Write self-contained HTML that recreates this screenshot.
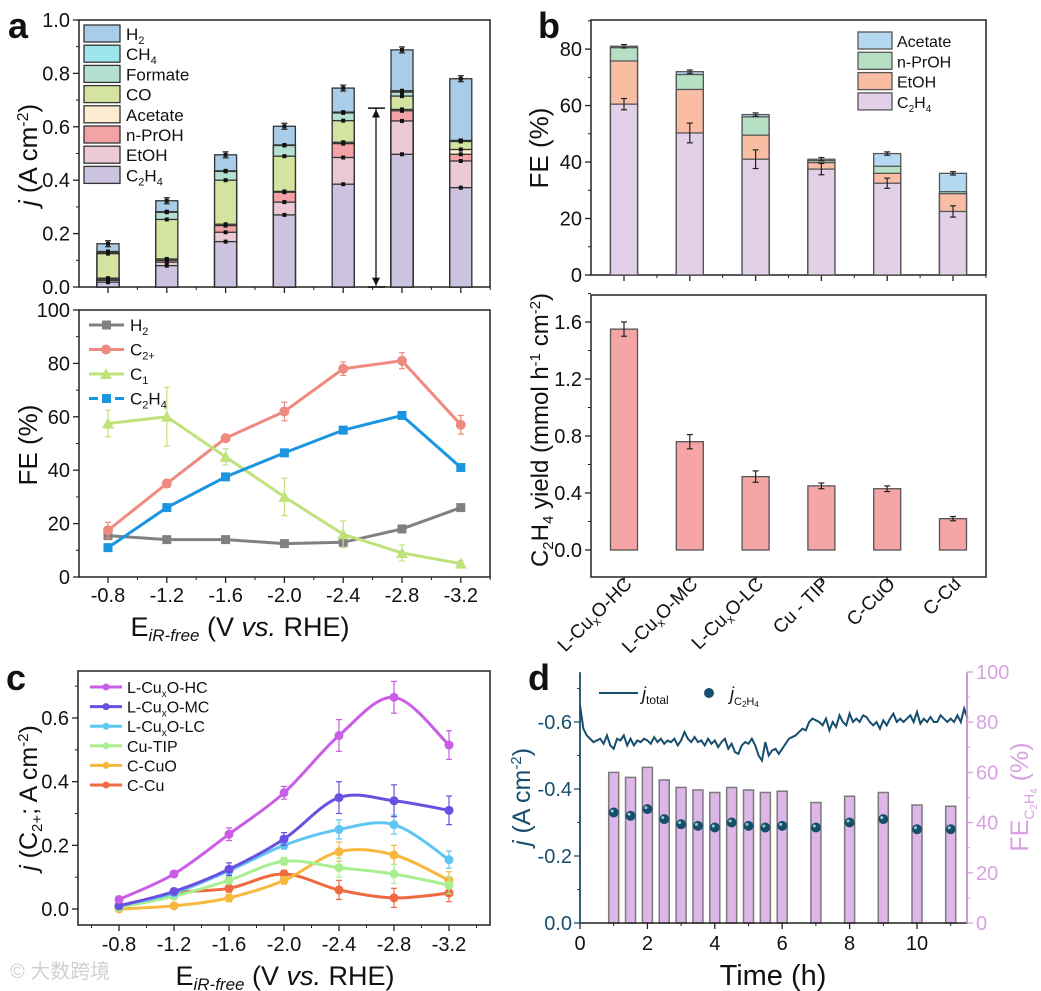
<!DOCTYPE html>
<html><head><meta charset="utf-8"><style>
body{margin:0;background:#fff;}
svg{display:block;font-family:"Liberation Sans",Arial,sans-serif;}
</style></head><body>
<svg id="fig" width="1041" height="991" viewBox="0 0 1041 991" xmlns="http://www.w3.org/2000/svg"></svg>
<script>
// ---------- DATA ----------
// Panel a top: cumulative stacked current densities (A cm-2)
const aCats = ["-0.8","-1.2","-1.6","-2.0","-2.4","-2.8","-3.2"];
const aC2H4 = [0.018,0.080,0.170,0.270,0.385,0.497,0.372];
const aEtOH = [0.025,0.093,0.205,0.318,0.485,0.622,0.472];
const aPrOH = [0.030,0.100,0.230,0.355,0.537,0.660,0.497];
const aAcet = [0.033,0.105,0.235,0.358,0.542,0.665,0.515];
const aCO   = [0.125,0.253,0.400,0.490,0.623,0.715,0.545];
const aForm = [0.130,0.280,0.433,0.530,0.652,0.730,0.547];
const aCH4  = [0.133,0.282,0.435,0.532,0.655,0.735,0.549];
const aH2   = [0.162,0.323,0.495,0.602,0.745,0.888,0.780];
const aTicks = ["0.0","0.2","0.4","0.6","0.8","1.0"];
// Panel a bottom: FE (%)
const feH2   = [15.5,14,14,12.5,13,18,26];
const feC2p  = [17.5,35,52,62,78,81,57];
const feC1   = [57.5,60,45,30,16,9,5];
const feC2H4 = [11,26,37.5,46.5,55,60.5,41];
const feErrC2p = [3,1.5,1,3.5,2.5,3,3.5];
const feErrC1 = [5,11,3,7,5,3,1];
const feTicks = ["0","20","40","60","80","100"];
// Panel b
const bCats = ["L-CuxO-HC","L-CuxO-MC","L-CuxO-LC","Cu - TIP","C-CuO","C-Cu"];
const bC2H4 = [60.5,50.3,41,37.5,32.5,22.5];
const bEtOH = [75.8,65.7,49.5,39.8,36,28.8];
const bPrOH = [80.5,71,56,40.5,38.5,29.5];
const bAcet = [81,72,56.8,41,43,36];
const bErr  = [2,3.5,3.3,2,1.8,2];
const bTicks = ["0","20","40","60","80"];
const yieldVals = [1.55,0.76,0.515,0.45,0.43,0.22];
const yieldErr  = [0.05,0.05,0.04,0.02,0.02,0.015];
const yTicks = ["0.0","0.4","0.8","1.2","1.6"];
// Panel c
const cCats = [-0.8,-1.2,-1.6,-2.0,-2.4,-2.8,-3.2];
const cHC  = [0.03,0.11,0.235,0.365,0.545,0.665,0.515];
const cMC  = [0.01,0.055,0.125,0.22,0.35,0.34,0.31];
const cLC  = [0.01,0.05,0.12,0.20,0.25,0.265,0.155];
const cTIP = [0.005,0.04,0.09,0.15,0.13,0.11,0.075];
const cCuO = [0.0,0.01,0.035,0.09,0.18,0.17,0.09];
const cCu  = [0.005,0.05,0.065,0.11,0.06,0.035,0.05];
const cErr = [0.01,0.01,0.02,0.02,0.05,0.05,0.045];
const cTicks = ["0.0","0.2","0.4","0.6"];
// Panel d
const dTimes = [1,1.5,2,2.5,3,3.5,4,4.5,5,5.5,6,7,8,9,10,11];
const dFE    = [60,58,62,57,54,53,52,54,53,52,52.5,48,50.5,52,47,46.5];
const dJC2H4 = [0.33,0.32,0.34,0.31,0.295,0.29,0.285,0.30,0.29,0.285,0.29,0.285,0.30,0.31,0.28,0.28];
const dJtot = [0.65,0.58,0.56,0.55,0.54,0.545,0.55,0.535,0.56,0.53,0.52,0.55,0.545,0.56,0.53,0.55,0.53,0.545,0.54,0.55,0.545,0.535,0.555,0.54,0.55,0.535,0.545,0.54,0.55,0.53,0.545,0.57,0.55,0.54,0.555,0.54,0.545,0.53,0.55,0.535,0.545,0.525,0.54,0.55,0.52,0.535,0.51,0.505,0.53,0.54,0.535,0.55,0.53,0.50,0.485,0.54,0.50,0.515,0.52,0.505,0.52,0.535,0.55,0.555,0.56,0.57,0.58,0.575,0.60,0.61,0.605,0.60,0.59,0.61,0.575,0.60,0.585,0.62,0.60,0.59,0.625,0.60,0.61,0.60,0.62,0.615,0.60,0.59,0.60,0.58,0.605,0.59,0.61,0.625,0.60,0.61,0.60,0.61,0.62,0.60,0.63,0.595,0.61,0.60,0.615,0.60,0.60,0.62,0.61,0.60,0.61,0.60,0.62,0.60,0.64,0.61];
const dTicksL = ["0.0","-0.2","-0.4","-0.6"];
const dTicksR = ["0","20","40","60","80","100"];
const dTicksX = ["0","2","4","6","8","10"];

// ---------- HELPERS ----------
const NS="http://www.w3.org/2000/svg";
const svg=document.getElementById('fig');
function el(tag,attrs,parent,txt){const e=document.createElementNS(NS,tag);for(const k in attrs)e.setAttribute(k,attrs[k]);if(txt!==undefined)e.textContent=txt;(parent||svg).appendChild(e);return e;}
function grp(name){const g=el('g',{});return g;}
function lin(x0,x1,d0,d1){return v=>x0+(v-d0)/(d1-d0)*(x1-x0);}
function frame(g,x0,y0,x1,y1){el('rect',{x:x0,y:y0,width:x1-x0,height:y1-y0,fill:'none',stroke:'#222','stroke-width':1.5},g);}
function errbar(g,x,y0,y1,c){el('line',{x1:x,x2:x,y1:y0,y2:y1,stroke:c||'#222','stroke-width':1.2},g);el('line',{x1:x-3,x2:x+3,y1:y0,y2:y0,stroke:c||'#222','stroke-width':1.2},g);el('line',{x1:x-3,x2:x+3,y1:y1,y2:y1,stroke:c||'#222','stroke-width':1.2},g);}
function smooth(pts){let d='M'+pts[0][0]+','+pts[0][1];for(let i=0;i<pts.length-1;i++){const p0=pts[i-1]||pts[i],p1=pts[i],p2=pts[i+1],p3=pts[i+2]||p2;const c1=[p1[0]+(p2[0]-p0[0])/6,p1[1]+(p2[1]-p0[1])/6],c2=[p2[0]-(p3[0]-p1[0])/6,p2[1]-(p3[1]-p1[1])/6];d+=' C'+c1+' '+c2+' '+p2;}return d;}
function label(g,x,y,t,opt){return el('text',Object.assign({x:x,y:y,'font-size':20,fill:'#111'},opt||{}),g,t);}

// panel letters
[['a',8,38],['b',538,38],['c',6,690],['d',528,690]].forEach(p=>{const t=label(svg,p[1],p[2],p[0],{'font-size':36,'font-weight':'bold'});});

// ---------- PANEL A TOP ----------
(function(){
const g=grp('panel-a-stacked-bars');
const X0=79,X1=490,Y0=20,Y1=287;
const y=lin(Y1,Y0,0,1.0);
const xc=i=>108+i*58.8;
frame(g,X0,Y0,X1,Y1);
aTicks.forEach(t=>{const v=parseFloat(t);el('line',{x1:X0,x2:X0-6,y1:y(v),y2:y(v),stroke:'#222','stroke-width':1.3},g);label(g,X0-9,y(v)+7,t,{'text-anchor':'end'});
 if(v<1){el('line',{x1:X0,x2:X0-3,y1:y(v+0.1),y2:y(v+0.1),stroke:'#222'},g);}});
aCats.forEach((c,i)=>{el('line',{x1:xc(i),x2:xc(i),y1:Y1,y2:Y1+6,stroke:'#222','stroke-width':1.3},g);el('line',{x1:xc(i)+29.4,x2:xc(i)+29.4,y1:Y1,y2:Y1+3,stroke:'#222'},g);});
const layers=[[aH2,'#a9cde8','h2'],[aCH4,'#9ee5ec','ch4'],[aForm,'#b3e0d1','formate'],[aCO,'#d4e3a0','co'],[aAcet,'#fbeccf','acetate'],[aPrOH,'#f3a2a6','n-proh'],[aEtOH,'#ebc9d6','etoh'],[aC2H4,'#cbc3e0','c2h4']];
const bw=22;
aCats.forEach((c,i)=>{
 layers.forEach(L=>{const r=el('rect',{x:xc(i)-bw/2,y:y(L[0][i]),width:bw,height:Y1-y(L[0][i]),fill:L[1],stroke:'#333','stroke-width':1.3},g);
 });
 layers.forEach(L=>{el('rect',{x:xc(i)-2,y:y(L[0][i])-2,width:4,height:4,fill:'#111'},g);});
 errbar(g,xc(i),y(aH2[i])-3,y(aH2[i])+3);
});
// double arrow
el('line',{x1:376,x2:376,y1:y(0.005),y2:y(0.67),stroke:'#111','stroke-width':1.3},g);
el('line',{x1:368,x2:385,y1:y(0.67),y2:y(0.67),stroke:'#111','stroke-width':1.5},g);
el('line',{x1:368,x2:385,y1:y(0.0),y2:y(0.0),stroke:'#111','stroke-width':1.5},g);
el('path',{d:`M372,${y(0.635)} L376,${y(0.665)} L380,${y(0.635)} Z`,fill:'#111'},g);
el('path',{d:`M372,${y(0.035)} L376,${y(0.005)} L380,${y(0.035)} Z`,fill:'#111'},g);
// legend
const lg=grp('legend-a');
const names=[['H','2'],['CH','4'],['Formate',''],['CO',''],['Acetate',''],['n-PrOH',''],['EtOH',''],['C','2','H','4']];
const cols=['#a9cde8','#9ee5ec','#b3e0d1','#d4e3a0','#fbeccf','#f3a2a6','#ebc9d6','#cbc3e0'];
names.forEach((n,k)=>{const yy=25+k*20.2;
 const r=el('rect',{x:84,y:yy,width:36,height:17,fill:cols[k],stroke:'#333','stroke-width':1.3},lg);
 
 const t=el('text',{x:126,y:yy+15,'font-size':17,fill:'#111'},lg);
 el('tspan',{},t,n[0]);if(n[1])el('tspan',{'font-size':11,dy:4},t,n[1]);if(n[2]){el('tspan',{'font-size':17,dy:-4},t,n[2]);el('tspan',{'font-size':11,dy:4},t,n[3]);}
});
const yl=el('text',{transform:'translate(37,155) rotate(-90)','text-anchor':'middle','font-size':26,fill:'#111'},g);
el('tspan',{'font-style':'italic'},yl,'j');el('tspan',{},yl,' (A cm');el('tspan',{'font-size':16,dy:-9},yl,'-2');el('tspan',{dy:9},yl,')');

})();

// ---------- PANEL A BOTTOM ----------
(function(){
const g=grp('panel-a-fe-lines');
const X0=79,X1=490,Y0=310,Y1=577;
const y=lin(Y1,Y0,0,100);
const xc=i=>108+i*58.8;
frame(g,X0,Y0,X1,Y1);
feTicks.forEach(t=>{const v=+t;el('line',{x1:X0,x2:X0-6,y1:y(v),y2:y(v),stroke:'#222','stroke-width':1.3},g);label(g,X0-9,y(v)+7,t,{'text-anchor':'end'});if(v<100)el('line',{x1:X0,x2:X0-3,y1:y(v+10),y2:y(v+10),stroke:'#222'},g);});
aCats.forEach((c,i)=>{el('line',{x1:xc(i),x2:xc(i),y1:Y1,y2:Y1+6,stroke:'#222','stroke-width':1.3},g);el('line',{x1:xc(i)+29.4,x2:xc(i)+29.4,y1:Y1,y2:Y1+3,stroke:'#222'},g);label(g,xc(i),602,c,{'text-anchor':'middle'});});
const ser=[[feH2,'#808080','square','h2',null],[feC2p,'#ef8a80','circle','c2plus',feErrC2p],[feC1,'#bfe37a','tri','c1',feErrC1],[feC2H4,'#1c95e0','square','c2h4',null]];
ser.forEach(S=>{
 const pts=S[0].map((v,i)=>[xc(i),y(v)]);
 const p=el('polyline',{points:pts.map(p=>p.join(',')).join(' '),fill:'none',stroke:S[1],'stroke-width':3},g);
 
 pts.forEach((pt,i)=>{ if(S[4])errbar(g,pt[0],y(S[0][i]+S[4][i]),y(S[0][i]-S[4][i]),S[1]);
  if(S[2]==='square')el('rect',{x:pt[0]-4.5,y:pt[1]-4.5,width:9,height:9,fill:S[1]},g);
  else if(S[2]==='circle')el('circle',{cx:pt[0],cy:pt[1],r:5,fill:S[1]},g);
  else el('path',{d:`M${pt[0]},${pt[1]-6} L${pt[0]+6},${pt[1]+5} L${pt[0]-6},${pt[1]+5}Z`,fill:S[1]},g);});
});
const lg=grp('legend-a-fe');
const ln=[['H','2','#808080','square'],['C','2+','#ef8a80','circle'],['C','1','#bfe37a','tri'],['C','2','#1c95e0','square']];
ln.forEach((n,k)=>{const yy=325+k*24.5;
 el('line',{x1:89,x2:124,y1:yy,y2:yy,stroke:n[2],'stroke-width':3,'stroke-dasharray':k===3?'9,4':'none'},lg);
 if(n[3]==='square')el('rect',{x:102,y:yy-4.5,width:9,height:9,fill:n[2]},lg);else if(n[3]==='circle')el('circle',{cx:106,cy:yy,r:5,fill:n[2]},lg);else el('path',{d:`M106,${yy-6} L112,${yy+5} L100,${yy+5}Z`,fill:n[2]},lg);
 const t=el('text',{x:130,y:yy+6,'font-size':17,fill:'#111'},lg);el('tspan',{},t,n[0]);el('tspan',{'font-size':11,dy:4},t,n[1]);
 if(k===3){el('tspan',{'font-size':17,dy:-4},t,'H');el('tspan',{'font-size':11,dy:4},t,'4');}
});
label(g,37,445,'FE (%)',{transform:'rotate(-90 37 445)','text-anchor':'middle','font-size':26});
const xt=el('text',{x:240,y:636,'text-anchor':'middle','font-size':27,fill:'#111'},g);
el('tspan',{},xt,'E');el('tspan',{'font-size':17,dy:5,'font-style':'italic'},xt,'iR-free');el('tspan',{dy:-5},xt,' (V ');el('tspan',{'font-style':'italic'},xt,'vs.');el('tspan',{},xt,' RHE)');

})();

// ---------- PANEL B TOP ----------
(function(){
const g=grp('panel-b-fe-bars');
const X0=591,X1=986,Y0=20,Y1=275;
const y=lin(Y1,Y0,0,90.3);
const xc=i=>624+i*65.8;
frame(g,X0,Y0,X1,Y1);
bTicks.forEach(t=>{const v=+t;el('line',{x1:X0,x2:X0-6,y1:y(v),y2:y(v),stroke:'#222','stroke-width':1.3},g);label(g,X0-9,y(v)+7,t,{'text-anchor':'end'});el('line',{x1:X0,x2:X0-3,y1:y(v+10),y2:y(v+10),stroke:'#222'},g);});
bCats.forEach((c,i)=>{el('line',{x1:xc(i),x2:xc(i),y1:Y1,y2:Y1+6,stroke:'#222','stroke-width':1.3},g);el('line',{x1:xc(i)+32.9,x2:xc(i)+32.9,y1:Y1,y2:Y1+3,stroke:'#222'},g);});
const layers=[[bAcet,'#b6d9f2','acetate'],[bPrOH,'#b6e0c4','n-proh'],[bEtOH,'#f8bda3','etoh'],[bC2H4,'#e2d0e8','c2h4']];
bCats.forEach((c,i)=>{layers.forEach(L=>{const r=el('rect',{x:xc(i)-13.5,y:y(L[0][i]),width:27,height:Y1-y(L[0][i]),fill:L[1],stroke:'#555','stroke-width':1.3},g);});
 errbar(g,xc(i),y(bC2H4[i]+bErr[i]),y(bC2H4[i]-bErr[i]));errbar(g,xc(i),y(bAcet[i]+0.6),y(bAcet[i]-0.6));});
const lg=grp('legend-b');
const nm=[['Acetate'],['n-PrOH'],['EtOH'],['C','2','H','4']];const cl=['#b6d9f2','#b6e0c4','#f8bda3','#e2d0e8'];
nm.forEach((n,k)=>{const yy=32+k*20.3;el('rect',{x:858,y:yy,width:34,height:17,fill:cl[k],stroke:'#555','stroke-width':1.3},lg);
 const t=el('text',{x:897,y:yy+15,'font-size':16,fill:'#111'},lg);el('tspan',{},t,n[0]);if(n[1]){el('tspan',{'font-size':10,dy:4},t,n[1]);el('tspan',{'font-size':16,dy:-4},t,n[2]);el('tspan',{'font-size':10,dy:4},t,n[3]);}});
label(g,548,148,'FE (%)',{transform:'rotate(-90 548 148)','text-anchor':'middle','font-size':26});
})();

// ---------- PANEL B BOTTOM ----------
(function(){
const g=grp('panel-b-yield-bars');
const X0=591,X1=986,Y0=295,Y1=577;
const y=lin(550,322,0,1.6);
const xc=i=>624+i*65.8;
frame(g,X0,Y0,X1,Y1);
yTicks.forEach(t=>{const v=+t;el('line',{x1:X0,x2:X0-6,y1:y(v),y2:y(v),stroke:'#222','stroke-width':1.3},g);label(g,X0-9,y(v)+7,t,{'text-anchor':'end'});el('line',{x1:X0,x2:X0-3,y1:y(v+0.2),y2:y(v+0.2),stroke:'#222'},g);});
bCats.forEach((c,i)=>{el('line',{x1:xc(i),x2:xc(i),y1:Y1,y2:Y1+6,stroke:'#222','stroke-width':1.3},g);
 const r=el('rect',{x:xc(i)-13.5,y:y(yieldVals[i]),width:27,height:550-y(yieldVals[i]),fill:'#f5a5a5',stroke:'#555','stroke-width':1.3},g);
 
 errbar(g,xc(i),y(yieldVals[i]+yieldErr[i]),y(yieldVals[i]-yieldErr[i]));
 const tx=xc(i)+9,ty=585;
 const t=el('text',{x:tx,y:ty,'text-anchor':'end','font-size':19,fill:'#111',transform:`rotate(-45 ${tx} ${ty})`},g);
 const m=c.match(/^(L-Cu)x(.*)$/);
 if(m){el('tspan',{},t,m[1]);el('tspan',{'font-size':12,dy:4},t,'x');el('tspan',{dy:-4},t,m[2]);}else t.textContent=c;
});
const yl=el('text',{transform:'translate(548,430) rotate(-90)','text-anchor':'middle','font-size':24,fill:'#111'},g);
el('tspan',{},yl,'C');el('tspan',{'font-size':15,dy:5},yl,'2');el('tspan',{dy:-5},yl,'H');el('tspan',{'font-size':15,dy:5},yl,'4');el('tspan',{dy:-5},yl,' yield (mmol h');el('tspan',{'font-size':15,dy:-8},yl,'-1');el('tspan',{dy:8},yl,' cm');el('tspan',{'font-size':15,dy:-8},yl,'-2');el('tspan',{dy:8},yl,')');
})();

// ---------- PANEL C ----------
(function(){
const g=grp('panel-c-lines');
const X0=78,X1=490,Y0=671,Y1=925;
const x=lin(119,449,-0.8,-3.2);const y=lin(909,718,0,0.6);
frame(g,X0,Y0,X1,Y1);
cTicks.forEach(t=>{const v=+t;el('line',{x1:X0,x2:X0-6,y1:y(v),y2:y(v),stroke:'#222','stroke-width':1.3},g);label(g,X0-9,y(v)+7,t,{'text-anchor':'end'});el('line',{x1:X0,x2:X0-3,y1:y(v+0.1),y2:y(v+0.1),stroke:'#222'},g);});
cCats.forEach(c=>{el('line',{x1:x(c),x2:x(c),y1:Y1,y2:Y1+6,stroke:'#222','stroke-width':1.3},g);el('line',{x1:x(c-0.2),x2:x(c-0.2),y1:Y1,y2:Y1+3,stroke:'#222'},g);label(g,x(c),951,c.toFixed(1),{'text-anchor':'middle'});});
el('line',{x1:x(-0.6),x2:x(-0.6),y1:Y1,y2:Y1+3,stroke:'#222'},g);
const ser=[[cHC,'#c95de6','HC','sq'],[cMC,'#6a4fe0','MC','ci'],[cLC,'#5ec6f0','LC','tu'],[cTIP,'#a9ef8f','TIP','td'],[cCuO,'#f7b83e','CuO','di'],[cCu,'#ef6a40','Cu','tl']];
ser.slice().reverse().forEach(S=>{
 const pts=S[0].map((v,i)=>[x(cCats[i]),y(v)]);
 const p=el('path',{d:smooth(pts),fill:'none',stroke:S[1],'stroke-width':3},g);
 
 pts.forEach((pt,i)=>{const e=cErr[i]*(S[2]==='HC'||S[2]==='MC'?1:0.6);errbar(g,pt[0],y(S[0][i]+e),y(S[0][i]-e),S[1]);el('circle',{cx:pt[0],cy:pt[1],r:4.5,fill:S[1]},g);});
});
const lg=grp('legend-c');
const nm=[['L-Cu','x','O-HC'],['L-Cu','x','O-MC'],['L-Cu','x','O-LC'],['Cu-TIP'],['C-CuO'],['C-Cu']];
nm.forEach((n,k)=>{const yy=687+k*19.6;el('line',{x1:90,x2:122,y1:yy,y2:yy,stroke:ser[k][1],'stroke-width':3},lg);el('circle',{cx:106,cy:yy,r:3.5,fill:ser[k][1]},lg);
 const t=el('text',{x:127,y:yy+6,'font-size':16,fill:'#111'},lg);el('tspan',{},t,n[0]);if(n[1]){el('tspan',{'font-size':10,dy:4},t,n[1]);el('tspan',{dy:-4},t,n[2]);}});
const yl=el('text',{transform:'translate(37,798) rotate(-90)','text-anchor':'middle','font-size':25,fill:'#111'},g);
el('tspan',{'font-style':'italic'},yl,'j');el('tspan',{},yl,' (C');el('tspan',{'font-size':15,dy:5},yl,'2+');el('tspan',{dy:-5},yl,'; A cm');el('tspan',{'font-size':15,dy:-9},yl,'-2');el('tspan',{dy:9},yl,')');
const xt=el('text',{x:285,y:985,'text-anchor':'middle','font-size':27,fill:'#111'},g);
el('tspan',{},xt,'E');el('tspan',{'font-size':17,dy:5,'font-style':'italic'},xt,'iR-free');el('tspan',{dy:-5},xt,' (V ');el('tspan',{'font-style':'italic'},xt,'vs.');el('tspan',{},xt,' RHE)');
const wm=label(svg,10,978,'\u00a9 大数跨境',{'font-size':20,fill:'#d0d0d0',style:'font-family:"Liberation Sans","Noto Sans CJK SC",sans-serif'});

})();

// ---------- PANEL D ----------
(function(){
const g=grp('panel-d-stability');
const X0=580,X1=967,Y0=672,Y1=923;
const x=lin(580,917,0,10);const yl=lin(923,722,0,0.6);const yr=lin(923,672,0,100);
const teal='#174e6e',pink='#d9a1e3';
dTimes.forEach((t,i)=>{const r=el('rect',{x:x(t)-5,y:yr(dFE[i]),width:10,height:923-yr(dFE[i]),fill:'#dfb6e8',stroke:'#7a7a7a','stroke-width':1.5},g);});
const pts=dJtot.map((v,i)=>[x(i*0.1),yl(v)]);
const p=el('polyline',{points:pts.map(p=>p.join(',')).join(' '),fill:'none',stroke:teal,'stroke-width':2},g);

dTimes.forEach((t,i)=>{const c=el('circle',{cx:x(t),cy:yl(dJC2H4[i]),r:5,fill:teal},g);el('circle',{cx:x(t)-1.5,cy:yl(dJC2H4[i])-1.5,r:1.5,fill:'#9cc'},g);});
frame(g,X0,Y0,X1,Y1);
el('rect',{x:X0-1,y:Y0-1,width:X1-X0+2,height:2,fill:'#fff'},g);
dTicksL.forEach(t=>{const v=-(+t);el('line',{x1:X0,x2:X0-6,y1:yl(v),y2:yl(v),stroke:teal,'stroke-width':1.3},g);label(g,X0-8,yl(v)+7,t,{'text-anchor':'end',fill:teal});el('line',{x1:X0,x2:X0-3,y1:yl(v+0.1),y2:yl(v+0.1),stroke:teal},g);});
dTicksR.forEach(t=>{const v=+t;el('line',{x1:X1,x2:X1+6,y1:yr(v),y2:yr(v),stroke:pink,'stroke-width':1.3},g);label(g,X1+9,yr(v)+7,t,{fill:pink});if(v<100)el('line',{x1:X1,x2:X1+3,y1:yr(v+10),y2:yr(v+10),stroke:pink},g);});
dTicksX.forEach(t=>{const v=+t;el('line',{x1:x(v),x2:x(v),y1:Y1,y2:Y1+6,stroke:'#222','stroke-width':1.3},g);el('line',{x1:x(v+1),x2:x(v+1),y1:Y1,y2:Y1+3,stroke:'#222'},g);label(g,x(v),950,t,{'text-anchor':'middle'});});
el('line',{x1:X0,x2:X0,y1:Y0,y2:Y1,stroke:teal,'stroke-width':1.5},g);
el('line',{x1:X1,x2:X1,y1:Y0,y2:Y1,stroke:pink,'stroke-width':1.5},g);
// legend
const lg=grp('legend-d');
el('line',{x1:599,x2:638,y1:693,y2:693,stroke:teal,'stroke-width':2},lg);
const t1=el('text',{x:642,y:700,'font-size':18,fill:'#111'},lg);el('tspan',{'font-style':'italic'},t1,'j');el('tspan',{'font-size':12,dy:4},t1,'total');
el('circle',{cx:709,cy:693,r:5,fill:teal},lg);
const t2=el('text',{x:730,y:700,'font-size':18,fill:'#111'},lg);el('tspan',{'font-style':'italic'},t2,'j');el('tspan',{'font-size':11,dy:5},t2,'C');el('tspan',{'font-size':8,dy:2},t2,'2');el('tspan',{'font-size':11,dy:-2},t2,'H');el('tspan',{'font-size':8,dy:2},t2,'4');
const ylt=el('text',{transform:'translate(530,797) rotate(-90)','text-anchor':'middle','font-size':25,fill:teal},g);
el('tspan',{'font-style':'italic'},ylt,'j');el('tspan',{},ylt,' (A cm');el('tspan',{'font-size':15,dy:-9},ylt,'-2');el('tspan',{dy:9},ylt,')');
const yrt=el('text',{transform:'translate(1028,797) rotate(-90)','text-anchor':'middle','font-size':25,fill:pink},g);
el('tspan',{},yrt,'FE');el('tspan',{'font-size':14,dy:6},yrt,'C');el('tspan',{'font-size':10,dy:3},yrt,'2');el('tspan',{'font-size':14,dy:-3},yrt,'H');el('tspan',{'font-size':10,dy:3},yrt,'4');el('tspan',{dy:-9},yrt,' (%)');
label(g,773,985,'Time (h)',{'text-anchor':'middle','font-size':29});
})();
</script>
</body></html>
